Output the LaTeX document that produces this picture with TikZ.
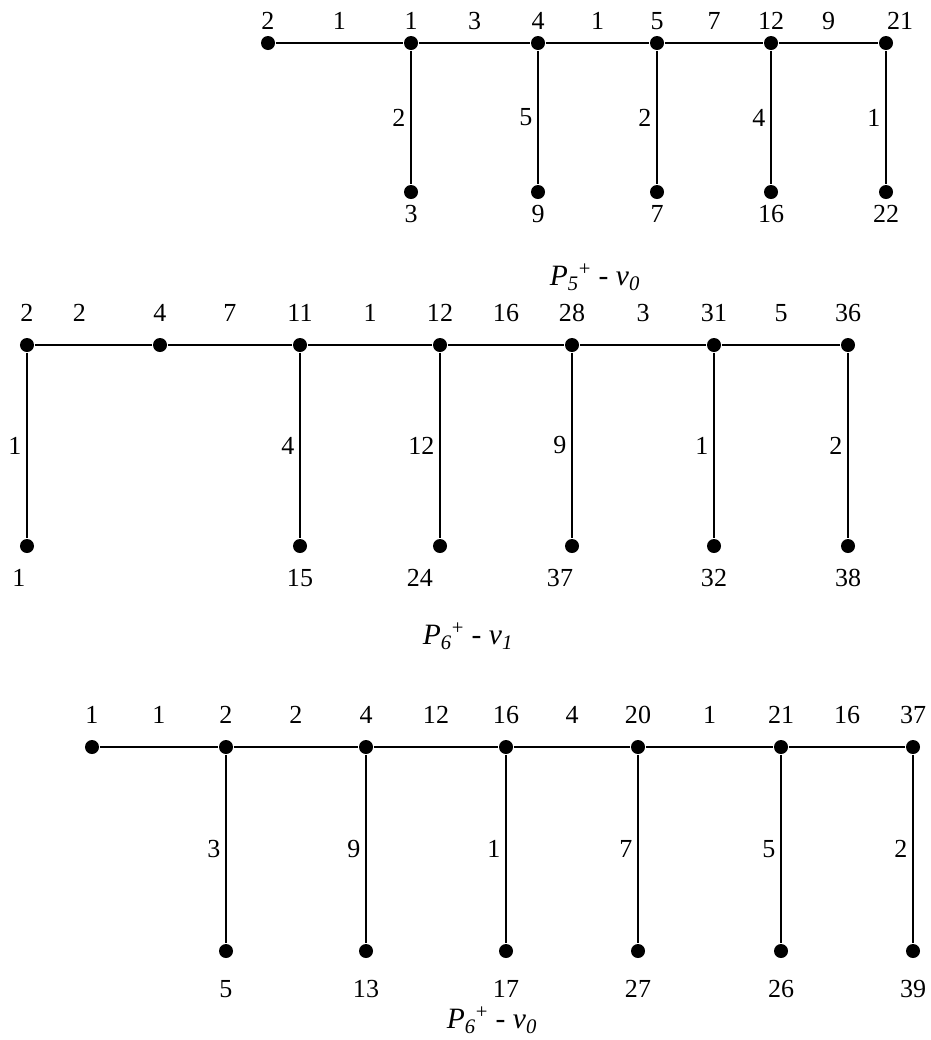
\documentclass[tikz,border=0pt]{standalone}
\usepackage{fontspec}
\setmainfont{Liberation Serif}
\usetikzlibrary{positioning}

\begin{document}
\begin{tikzpicture}[
    x=0.025cm, y=-0.025cm,
    font=\fontsize{18.5}{21}\selectfont,
    vtx/.style={circle,fill,inner sep=0pt,minimum size=0.35cm},
    wt/.style={midway,above=0.2cm},
    vwt/.style={midway,left},
    capt/.style={font=\fontsize{21}{24}\selectfont},
    line width=1.4pt
]
\useasboundingbox (0,0) rectangle (931,1040);

% P5+ - v0
\node[vtx,label=above:2] (a1) at (268,43) {};
\node[vtx,label=above:1] (a2) at (411,43) {};
\node[vtx,label=above:4] (a3) at (538,43) {};
\node[vtx,label=above:5] (a4) at (657,43) {};
\node[vtx,label=above:12] (a5) at (771,43) {};
\node[vtx,label={[xshift=0.35cm]above:21}] (a6) at (886,43) {};
\node[vtx,label=below:3] (b1) at (411,192) {};
\node[vtx,label=below:9] (b2) at (538,192) {};
\node[vtx,label=below:7] (b3) at (657,192) {};
\node[vtx,label=below:16] (b4) at (771,192) {};
\node[vtx,label=below:22] (b5) at (886,192) {};
\draw (a1) -- node[wt] {1} (a2) -- node[wt] {3} (a3) -- node[wt] {1} (a4)
      -- node[wt] {7} (a5) -- node[wt] {9} (a6);
\draw (a2) -- node[vwt] {2} (b1);
\draw (a3) -- node[vwt] {5} (b2);
\draw (a4) -- node[vwt] {2} (b3);
\draw (a5) -- node[vwt] {4} (b4);
\draw (a6) -- node[vwt] {1} (b5);
\node[capt] (cap1) at (595,277) {\textit{P}\textsubscript{\textit{5}}\textsuperscript{+} - \textit{v}\textsubscript{\textit{0}}};

\begin{scope}[label distance=0.25cm, wt/.append style={above=0.45cm}]
% P6+ - v1
\node[vtx,label=above:2] (c1) at (27,345) {};
\node[vtx,label=above:4] (c2) at (160,345) {};
\node[vtx,label=above:11] (c3) at (300,345) {};
\node[vtx,label=above:12] (c4) at (440,345) {};
\node[vtx,label=above:28] (c5) at (572,345) {};
\node[vtx,label=above:31] (c6) at (714,345) {};
\node[vtx,label=above:36] (c7) at (848,345) {};
\node[vtx,label={[xshift=-0.2cm]below:1}] (d1) at (27,546) {};
\node[vtx,label=below:15] (d3) at (300,546) {};
\node[vtx,label={[xshift=-0.5cm]below:24}] (d4) at (440,546) {};
\node[vtx,label={[xshift=-0.3cm]below:37}] (d5) at (572,546) {};
\node[vtx,label=below:32] (d6) at (714,546) {};
\node[vtx,label=below:38] (d7) at (848,546) {};
\draw (c1) -- node[wt,pos=0.38] {2} (c2) -- node[wt] {7} (c3) -- node[wt] {1} (c4)
      -- node[wt] {16} (c5) -- node[wt] {3} (c6) -- node[wt] {5} (c7);
\draw (c1) -- node[vwt] {1} (d1);
\draw (c3) -- node[vwt] {4} (d3);
\draw (c4) -- node[vwt] {12} (d4);
\draw (c5) -- node[vwt] {9} (d5);
\draw (c6) -- node[vwt] {1} (d6);
\draw (c7) -- node[vwt] {2} (d7);
\node[capt] (cap2) at (468,636) {\textit{P}\textsubscript{\textit{6}}\textsuperscript{+} - \textit{v}\textsubscript{\textit{1}}};

% P6+ - v0
\node[vtx,label=above:1] (e1) at (92,747) {};
\node[vtx,label=above:2] (e2) at (226,747) {};
\node[vtx,label=above:4] (e3) at (366,747) {};
\node[vtx,label=above:16] (e4) at (506,747) {};
\node[vtx,label=above:20] (e5) at (638,747) {};
\node[vtx,label=above:21] (e6) at (781,747) {};
\node[vtx,label=above:37] (e7) at (913,747) {};
\node[vtx,label={[label distance=0.4cm]below:5}] (f2) at (226,951) {};
\node[vtx,label={[label distance=0.4cm]below:13}] (f3) at (366,951) {};
\node[vtx,label={[label distance=0.4cm]below:17}] (f4) at (506,951) {};
\node[vtx,label={[label distance=0.4cm]below:27}] (f5) at (638,951) {};
\node[vtx,label={[label distance=0.4cm]below:26}] (f6) at (781,951) {};
\node[vtx,label={[label distance=0.4cm]below:39}] (f7) at (913,951) {};
\draw (e1) -- node[wt] {1} (e2) -- node[wt] {2} (e3) -- node[wt] {12} (e4)
      -- node[wt] {4} (e5) -- node[wt] {1} (e6) -- node[wt] {16} (e7);
\draw (e2) -- node[vwt] {3} (f2);
\draw (e3) -- node[vwt] {9} (f3);
\draw (e4) -- node[vwt] {1} (f4);
\draw (e5) -- node[vwt] {7} (f5);
\draw (e6) -- node[vwt] {5} (f6);
\draw (e7) -- node[vwt] {2} (f7);
\node[capt] (cap3) at (492,1020) {\textit{P}\textsubscript{\textit{6}}\textsuperscript{+} - \textit{v}\textsubscript{\textit{0}}};
\end{scope}
\end{tikzpicture}
\end{document}
